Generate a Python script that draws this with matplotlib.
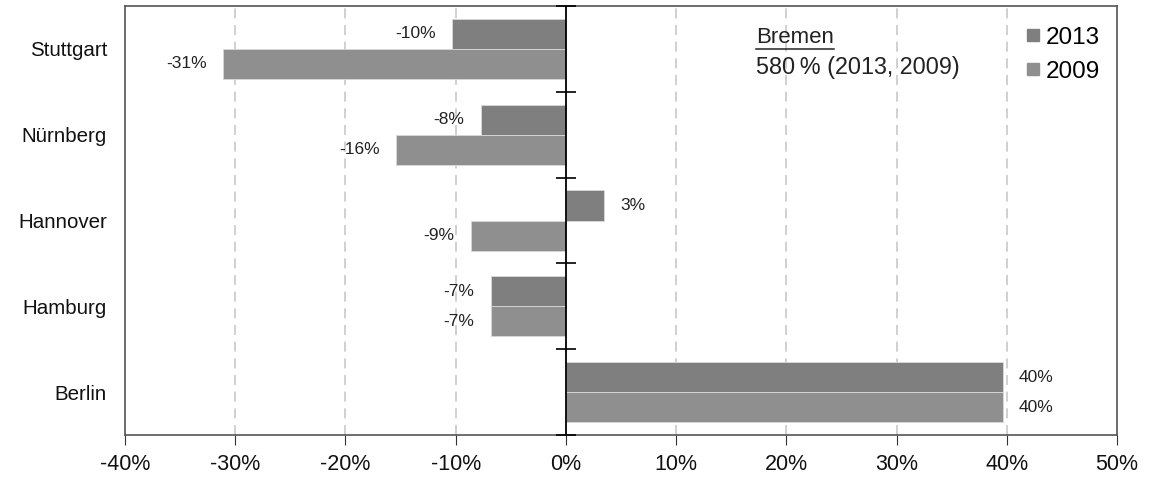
import numpy as np
import matplotlib
matplotlib.use("Agg")
import matplotlib.pyplot as plt
from matplotlib.lines import Line2D

plt.rcParams['font.family'] = ['Liberation Sans', 'DejaVu Sans']

cities = ["Stuttgart", "Nürnberg", "Hannover", "Hamburg", "Berlin"]
years = ["2013", "2009"]
vals_2013 = [-10.3, -7.7, 3.5, -6.8, 39.7]
vals_2009 = [-31.1, -15.4, -8.6, -6.8, 39.7]
labels_2013 = ["-10%", "-8%", "3%", "-7%", "40%"]
labels_2009 = ["-31%", "-16%", "-9%", "-7%", "40%"]
colors = ["#7f7f7f", "#8f8f8f"]
xticks = [-40, -30, -20, -10, 0, 10, 20, 30, 40, 50]

fig = plt.figure(figsize=(11.51, 4.8), dpi=100)
ax = fig.add_axes([125 / 1151, 1 - 435 / 480, (1117 - 125) / 1151, (435 - 6) / 480])

y = np.arange(len(cities))
h = 0.35
b1 = ax.barh(y - h / 2, vals_2013, height=h, color=colors[0], edgecolor="#d9d9d9", linewidth=0.6, zorder=3)
b2 = ax.barh(y + h / 2, vals_2009, height=h, color=colors[1], edgecolor="#d9d9d9", linewidth=0.6, zorder=3)

# value labels
for bars, labs in ((b1, labels_2013), (b2, labels_2009)):
    for bar, lab in zip(bars, labs):
        w = bar.get_width()
        yc = bar.get_y() + bar.get_height() / 2
        if w >= 0:
            ax.text(w + 1.4, yc, lab, ha="left", va="center", fontsize=12.5, color="#222222", zorder=4)
        else:
            ax.text(w - 1.5, yc, lab, ha="right", va="center", fontsize=12.5, color="#222222", zorder=4)

ax.set_xlim(-40, 50)
ax.set_ylim(len(cities) - 0.5, -0.5)
ax.set_xticks(xticks)
ax.set_xticklabels([f"{t}%" for t in xticks], fontsize=15.5, color="#111111")
ax.set_yticks(y)
ax.set_yticklabels(cities, fontsize=14.8, color="#111111")
ax.tick_params(axis="y", length=0, pad=13)
ax.tick_params(axis="x", length=7, color="#333333", pad=7)

for t in xticks[1:-1]:
    if t != 0:
        ax.axvline(t, color="#c8c8c8", linestyle=(0, (6, 4)), linewidth=1.2, zorder=1)

# zero axis with category separator ticks
ax.axvline(0, color="black", linewidth=1.3, zorder=5)
bounds = np.arange(len(cities) + 1) - 0.5
ax.plot(np.zeros(len(bounds)), bounds, linestyle="none", marker="_", markersize=15,
        markeredgewidth=1.2, color="black", zorder=5, clip_on=False)

for s in ax.spines.values():
    s.set_color("#555555")
    s.set_linewidth(1.2)

# legend
handles = [Line2D([], [], linestyle="none", marker="s", markersize=9, color=c) for c in colors]
ax.legend(handles, years, loc="upper right", frameon=False, fontsize=17.5,
          handlelength=0.7, handletextpad=0.2, labelspacing=0.5,
          borderaxespad=0.45, bbox_to_anchor=(1.004, 1.0))

# Bremen note
t1 = ax.text(0.6365, 0.914, "Bremen", transform=ax.transAxes, fontsize=16, color="#222222", va="baseline")
ax.text(0.6365, 0.842, "580\u2009% (2013, 2009)", transform=ax.transAxes, fontsize=16.8, color="#222222", va="baseline")
fig.canvas.draw()
bb = t1.get_window_extent().transformed(ax.transAxes.inverted())
ax.plot([bb.x0, bb.x1], [0.899, 0.899], transform=ax.transAxes, color="#222222", linewidth=1.1)

fig.savefig("out.png", dpi=100)
